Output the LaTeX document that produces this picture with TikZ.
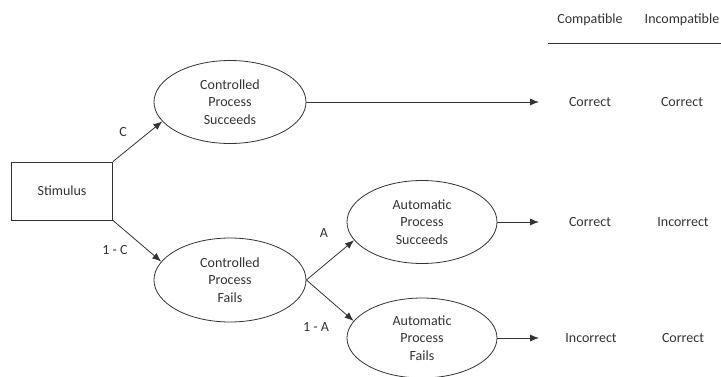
\documentclass[tikz,border=0pt]{standalone}
\usepackage{fontspec}
\setmainfont{Carlito}
\usetikzlibrary{shapes.geometric,arrows.meta}
\tikzset{
  every node/.style={font=\fontsize{14}{17.5}\selectfont},
  procnode/.style={draw, ellipse, minimum width=152pt, minimum height=83pt, inner sep=0pt, align=center},
  stimbox/.style={draw, rectangle, minimum width=101pt, minimum height=58pt},
}
\begin{document}
\begin{tikzpicture}[x=1pt, y=1pt, >={Latex[length=9pt,width=7pt]}, line width=0.8pt, color=black!80]
	\useasboundingbox (0,0) rectangle (721,376);
	% header
	\node (compat) at (590,356) {Compatible};
	\node (incompat) at (682,356) {Incompatible};
	\draw (548,333) -- (721,333);
	% process tree
	\node[stimbox] (stim) at (62,185) {Stimulus};
	\node[procnode] (cps) at (230,274) {Controlled\\Process\\Succeeds};
	\node[procnode, minimum height=84pt] (cpf) at (230,96) {Controlled\\Process\\Fails};
	\node[procnode, minimum width=150pt] (aps) at (422,154) {Automatic\\Process\\Succeeds};
	\node[procnode, minimum width=150pt, minimum height=80pt] (apf) at (422,38) {Automatic\\Process\\Fails};
	\draw[->] (stim.north east) -- (cps.196);
	\draw[->] (stim.south east) -- (cpf.165);
	\draw[->] (cpf.east) -- (aps.195);
	\draw[->] (cpf.east) -- (apf.166);
	\node (c) at (123,244) {C};
	\node (notc) at (115,126) {1 - C};
	\node (a) at (324,143) {A};
	\node (nota) at (316,49) {1 - A};
	% outcomes
	\coordinate (end1) at (539,274);
	\coordinate (end2) at (539,154);
	\coordinate (end3) at (539,38);
	\draw[->] (cps.east) -- (end1);
	\draw[->] (aps.east) -- (end2);
	\draw[->] (apf.east) -- (end3);
	\node (r1a) at (590,274) {Correct};
	\node (r1b) at (682,274) {Correct};
	\node (r2a) at (590,154) {Correct};
	\node (r2b) at (683,154) {Incorrect};
	\node (r3a) at (591,38) {Incorrect};
	\node (r3b) at (683,38) {Correct};
\end{tikzpicture}
\end{document}
